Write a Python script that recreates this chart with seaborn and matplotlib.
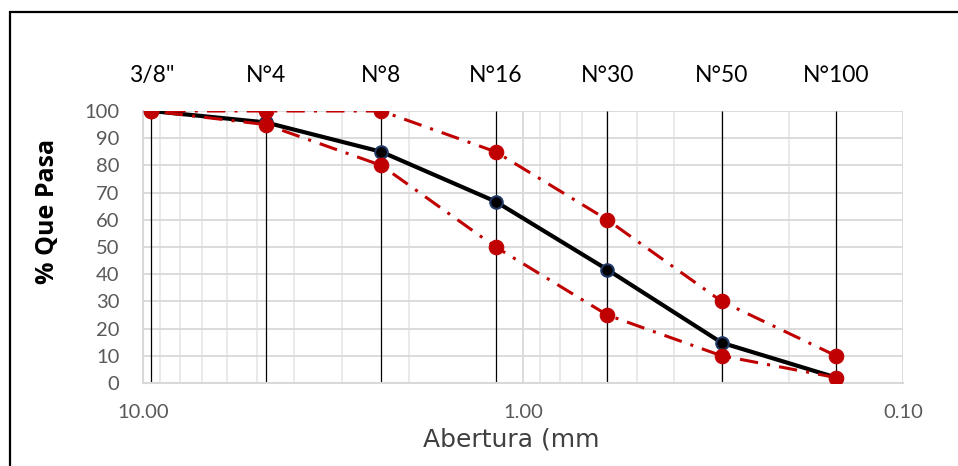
import matplotlib
matplotlib.use("Agg")
import matplotlib.pyplot as plt
import seaborn as sns
import pandas as pd
import numpy as np
from matplotlib.patches import Rectangle
from matplotlib.ticker import FixedLocator, NullFormatter

sieves = ['3/8"', "N°4", "N°8", "N°16", "N°30", "N°50", "N°100"]
aperture_mm = [9.5, 4.75, 2.36, 1.18, 0.60, 0.30, 0.15]
curve = [100, 95.8, 85, 66.7, 41.7, 14.8, 2]
upper = [100, 100, 100, 85, 60, 30, 10]
lower = [100, 95, 80, 50, 25, 10, 2]
yticks = list(range(0, 101, 10))
xticks = [10, 1, 0.1]
xtick_labels = ["10.00", "1.00", "0.10"]

sns.set_style("white")
plt.rcParams["font.family"] = ["Lato", "DejaVu Sans"]

fig = plt.figure(figsize=(9.58, 4.66), dpi=100)
ax = fig.add_axes([143/958, 1-383/466, (903-143)/958, (383-111)/466])

df = pd.DataFrame({"x": aperture_mm, "curve": curve, "upper": upper, "lower": lower})

ax.set_xscale("log")
ax.set_xlim(10, 0.1)
ax.set_ylim(0, 100)

# grid
minor = [m * d for d in (0.1, 1) for m in range(2, 10)]
ax.xaxis.set_minor_locator(FixedLocator(minor))
ax.xaxis.set_minor_formatter(NullFormatter())
ax.set_xticks(xticks)
ax.set_xticklabels(xtick_labels)
ax.set_yticks(yticks)
ax.grid(which="major", color="#D9D9D9", lw=1.3, zorder=0)
ax.grid(which="minor", axis="x", color="#E8E8E8", lw=1.3, zorder=0)
ax.set_axisbelow(True)

# vertical sieve lines
ax.vlines(aperture_mm, 0, 100, colors="black", lw=0.9, zorder=1)

sns.lineplot(data=df, x="x", y="curve", ax=ax, color="black", lw=3,
             marker="o", markersize=9, markerfacecolor="black",
             markeredgecolor="#1F3864", markeredgewidth=1.5, zorder=3)
red = "#C00000"
for col in ["upper", "lower"]:
    sns.lineplot(data=df, x="x", y=col, ax=ax, color=red, lw=2.2,
                 dashes=False, marker="o", markersize=10.5,
                 markerfacecolor=red, markeredgecolor=red, zorder=4)
for line in ax.get_lines()[1:]:
    line.set_linestyle((0, (6, 3, 1, 3)))
ax.get_lines()[0].set_linestyle("-")

for s in ["top", "right"]:
    ax.spines[s].set_visible(False)
for s in ["left", "bottom"]:
    ax.spines[s].set_color("#D9D9D9")
    ax.spines[s].set_linewidth(1.5)

ax.tick_params(axis="both", which="both", length=0, labelsize=14.5, labelcolor="#595959")
ax.tick_params(axis="y", pad=17)
ax.tick_params(axis="x", pad=15)

ax.set_ylabel("")
ax.set_xlabel("")
fig.text(48/958, 1-211/466, "% Que Pasa", ha="center", va="center", rotation=90,
         fontsize=18, fontweight="bold", color="black",
         family=["Open Sans", "DejaVu Sans"])
fig.text(511/958, 1-440/466, "Abertura (mm", ha="center", va="center",
         fontsize=18, color="#404040", family=["DejaVu Sans"])

top = ax.secondary_xaxis("top")
top.set_xticks(aperture_mm)
top.set_xticklabels(sieves)
top.xaxis.set_minor_locator(FixedLocator([]))
top.tick_params(length=0, labelsize=16.5, labelcolor="black", pad=18)
top.spines["top"].set_visible(False)

fig.patches.append(Rectangle((10/958, -0.1), 1.2, 1 - 12/466 + 0.1,
                             transform=fig.transFigure, fill=False,
                             edgecolor="black", lw=1.6))

fig.savefig("out.png", dpi=100)
